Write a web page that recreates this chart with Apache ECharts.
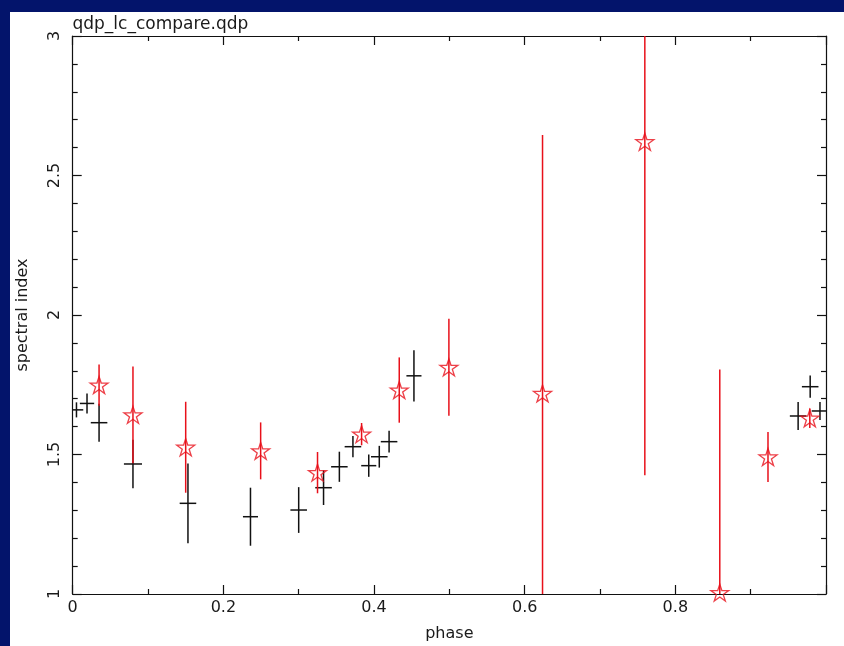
<!DOCTYPE html>
<html>
<head>
<meta charset="utf-8">
<script src="https://cdn.jsdelivr.net/npm/echarts@6/dist/echarts.min.js"></script>
<style>
  html, body { margin: 0; padding: 0; background: #03146b; width: 844px; height: 646px; overflow: hidden; }
  #chart { position: absolute; left: 10px; top: 12px; width: 834px; height: 634px; background: #ffffff; }
</style>
</head>
<body>
<div id="chart"></div>
<script>
// ---- data ----
const titleText = 'qdp_lc_compare.qdp';
const xTickLabels = ['0', '0.2', '0.4', '0.6', '0.8'];
const yTickLabels = ['1', '1.5', '2', '2.5', '3'];

const blackX    = [0.005, 0.019, 0.035, 0.080, 0.153, 0.236, 0.300, 0.333, 0.354, 0.372, 0.393, 0.407, 0.420, 0.453, 0.963, 0.979, 0.992];
const blackY    = [1.660, 1.683, 1.614, 1.466, 1.325, 1.277, 1.301, 1.381, 1.456, 1.528, 1.460, 1.492, 1.546, 1.782, 1.638, 1.743, 1.656];
const blackXErr = [0.009, 0.0095, 0.011, 0.012, 0.011, 0.010, 0.011, 0.011, 0.011, 0.011, 0.010, 0.011, 0.011, 0.010, 0.011, 0.011, 0.011];
const blackYErr = [0.027, 0.036, 0.068, 0.087, 0.143, 0.104, 0.082, 0.062, 0.054, 0.038, 0.040, 0.039, 0.039, 0.092, 0.050, 0.040, 0.032];

const redX    = [0.035, 0.080, 0.150, 0.2495, 0.325, 0.3835, 0.4335, 0.4994, 0.6237, 0.7595, 0.859, 0.923, 0.9785];
const redY    = [1.749, 1.642, 1.526, 1.513, 1.435, 1.573, 1.731, 1.8125, 1.719, 2.621, 1.005, 1.491, 1.630];
const redYErr = [0.074, 0.173, 0.163, 0.102, 0.074, 0.040, 0.117, 0.174, 0.926, 1.195, 0.800, 0.090, 0.035];

// ---- build ----
const blackData = blackX.map((x, i) => [x, blackY[i], blackXErr[i], blackYErr[i]]);
const redErrData = redX.map((x, i) => [x, redY[i], redYErr[i]]);
const redPts = redX.map((x, i) => [x, redY[i]]);

const FONT = 'DejaVu Sans';
const TXT = '#1a1a1a';
const RED = '#e8101a';
const STAR = 'path://M50,0 L61.2,34.5 L97.6,34.5 L68.2,55.9 L79.4,90.5 L50,69.1 L20.6,90.5 L31.8,55.9 L2.4,34.5 L38.8,34.5 Z';

function clampRect(v, lo, hi) { return Math.max(lo, Math.min(hi, v)); }

function crossRender(params, api) {
  const cs = params.coordSys;
  const x = api.value(0), y = api.value(1), ex = api.value(2), ey = api.value(3);
  const c = api.coord([x, y]);
  const l = api.coord([x - ex, y]);
  const r = api.coord([x + ex, y]);
  const t = api.coord([x, y + ey]);
  const b = api.coord([x, y - ey]);
  const x1 = clampRect(l[0], cs.x, cs.x + cs.width), x2 = clampRect(r[0], cs.x, cs.x + cs.width);
  const y1 = clampRect(t[1], cs.y, cs.y + cs.height), y2 = clampRect(b[1], cs.y, cs.y + cs.height);
  const st = { stroke: '#111111', lineWidth: 1.5 };
  return { type: 'group', children: [
    { type: 'line', shape: { x1: x1, y1: c[1], x2: x2, y2: c[1] }, style: st },
    { type: 'line', shape: { x1: c[0], y1: y1, x2: c[0], y2: y2 }, style: st }
  ]};
}

function redErrRender(params, api) {
  const cs = params.coordSys;
  const x = api.value(0), y = api.value(1), ey = api.value(2);
  const t = api.coord([x, y + ey]);
  const b = api.coord([x, y - ey]);
  const y1 = clampRect(t[1], cs.y, cs.y + cs.height), y2 = clampRect(b[1], cs.y, cs.y + cs.height);
  return { type: 'line', shape: { x1: t[0], y1: y1, x2: t[0], y2: y2 }, style: { stroke: RED, lineWidth: 1.5 } };
}

const axisCommon = {
  type: 'value',
  axisLine: { show: true, onZero: false, lineStyle: { color: '#111', width: 1.2 } },
  axisTick: { show: true, inside: true, length: 9, lineStyle: { color: '#111', width: 1.2 } },
  minorTick: { show: true, length: 5, lineStyle: { color: '#111', width: 1.2 } },
  splitLine: { show: false },
  minorSplitLine: { show: false }
};

const chart = echarts.init(document.getElementById('chart'), null, { renderer: 'canvas' });
chart.setOption({
  animation: false,
  backgroundColor: '#ffffff',
  title: {
    text: titleText, left: 62.5, top: 4, padding: 0,
    textStyle: { fontFamily: FONT, fontSize: 17, fontWeight: 'normal', color: TXT }
  },
  grid: { left: 62.7, top: 24, right: 18, bottom: 52, containLabel: false, outerBoundsMode: 'none' },
  xAxis: [
    Object.assign({}, axisCommon, {
      position: 'bottom', min: 0, max: 1, interval: 0.2,
      minorTick: Object.assign({}, axisCommon.minorTick, { splitNumber: 2 }),
      name: 'phase', nameLocation: 'middle', nameGap: 32,
      nameTextStyle: { fontFamily: FONT, fontSize: 16, color: TXT },
      axisLabel: {
        margin: 6, fontFamily: FONT, fontSize: 16, color: TXT,
        formatter: function (v) { const i = Math.round(v / 0.2); return xTickLabels[i] !== undefined && Math.abs(v - i * 0.2) < 1e-6 ? xTickLabels[i] : ''; }
      }
    }),
    Object.assign({}, axisCommon, {
      position: 'top', min: 0, max: 1, interval: 0.2,
      minorTick: Object.assign({}, axisCommon.minorTick, { splitNumber: 2 }),
      axisLabel: { show: false }
    })
  ],
  yAxis: [
    Object.assign({}, axisCommon, {
      position: 'left', min: 1, max: 3, interval: 0.5,
      minorTick: Object.assign({}, axisCommon.minorTick, { splitNumber: 5 }),
      name: 'spectral index', nameLocation: 'middle', nameGap: 42,
      nameTextStyle: { fontFamily: FONT, fontSize: 16, color: TXT },
      axisLabel: {
        margin: 10, rotate: 90, fontFamily: FONT, fontSize: 16, color: TXT,
        formatter: function (v) { const i = Math.round((v - 1) / 0.5); return yTickLabels[i] !== undefined ? yTickLabels[i] : ''; }
      }
    }),
    Object.assign({}, axisCommon, {
      position: 'right', min: 1, max: 3, interval: 0.5,
      minorTick: Object.assign({}, axisCommon.minorTick, { splitNumber: 5 }),
      axisLabel: { show: false }
    })
  ],
  series: [
    {
      type: 'custom', name: 'black', xAxisIndex: 0, yAxisIndex: 0,
      renderItem: crossRender, encode: { x: 0, y: 1 }, data: blackData, z: 3, silent: true
    },
    {
      type: 'custom', name: 'redErr', xAxisIndex: 0, yAxisIndex: 0,
      renderItem: redErrRender, encode: { x: 0, y: 1 }, data: redErrData, z: 4, silent: true
    },
    {
      type: 'scatter', name: 'red', xAxisIndex: 0, yAxisIndex: 0,
      data: redPts, symbol: STAR, symbolSize: [18, 17], z: 5, silent: true,
      itemStyle: { color: 'rgba(255,255,255,0)', borderColor: RED, borderWidth: 1.3 }
    }
  ]
});
</script>
</body>
</html>
